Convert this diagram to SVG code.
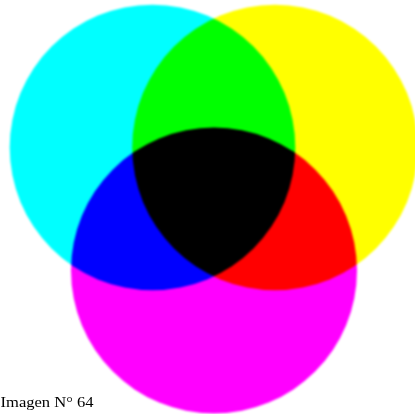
<svg xmlns="http://www.w3.org/2000/svg" width="415" height="414" viewBox="0 0 415 414">
<defs>
<style>
.c{mix-blend-mode:multiply;filter:url(#b)}
.t{font-family:"Liberation Serif","DejaVu Serif",serif;font-size:15px;fill:#000}
</style>
<filter id="b" x="-5%" y="-5%" width="110%" height="110%"><feGaussianBlur stdDeviation="0.8"/></filter>
</defs>
<rect width="415" height="414" fill="#fff"/>
<g style="isolation:isolate">
<g id="cyan"><circle class="c" cx="152.5" cy="147.5" r="142.8" fill="#00ffff"/></g>
<g id="yellow"><circle class="c" cx="275" cy="147.5" r="142.8" fill="#ffff00"/></g>
<g id="magenta"><circle class="c" cx="214" cy="270.5" r="143" fill="#ff00ff"/></g>
</g>
<g id="label"><text class="t" x="0.5" y="407" textLength="93" lengthAdjust="spacingAndGlyphs">Imagen N° 64</text></g>
</svg>
